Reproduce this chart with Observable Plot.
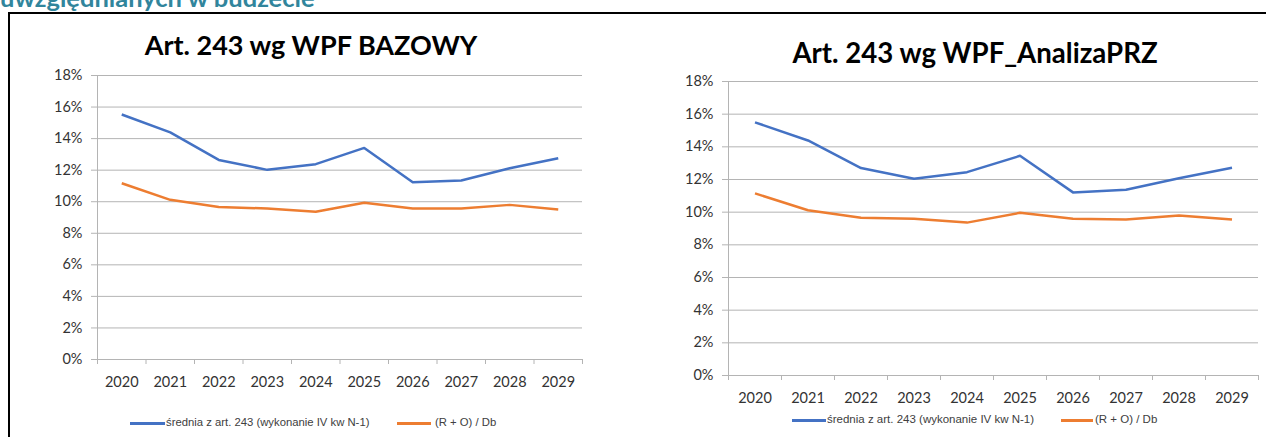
<!DOCTYPE html>
<html>
<head>
<meta charset="utf-8">
<script src="https://cdn.jsdelivr.net/npm/d3@7"></script>
<script src="https://cdn.jsdelivr.net/npm/@observablehq/plot@0.6"></script>
<style>
  html, body { margin: 0; padding: 0; background: #fff; }
  #root { position: relative; width: 1266px; height: 437px; overflow: hidden; background: #fff; }
  .hdr { position: absolute; left: 0; top: -15.5px; font: bold 25.5px/1 Lato, sans-serif; color: #31859c; white-space: nowrap; }
  .box { position: absolute; left: 8px; top: 12px; width: 1300px; height: 500px; border-left: 2px solid #000; border-top: 2px solid #000; box-sizing: border-box; }
  .title { position: absolute; font: bold 27px/1 Lato, sans-serif; color: #000; white-space: nowrap; transform: translateX(-50%); }
  .chart { position: absolute; }
  .leg { position: absolute; font-family: "Liberation Sans", Arial, sans-serif; color: #404040; white-space: nowrap; line-height: 1; }
  .sw { position: absolute; height: 3px; }
</style>
</head>
<body>
<div id="root">
  <div class="hdr">uwzględnianych w budżecie</div>
  <div class="box"></div>
  <div class="chart" id="c1" style="left:20px; top:60px;"></div>
  <div class="chart" id="c2" style="left:650px; top:66px;"></div>
  <div class="title" id="t1" style="left:311px; top:31px;"></div>
  <div class="title" id="t2" style="left:975px; top:39px; font-size:27.6px;"></div>
  <div id="legends"></div>
</div>
<script>
// ---- data ----
const years = [2020, 2021, 2022, 2023, 2024, 2025, 2026, 2027, 2028, 2029];
const yTicks = [0, 2, 4, 6, 8, 10, 12, 14, 16, 18];
const seriesNames = ["średnia z art. 243 (wykonanie IV kw N-1)", "(R + O) / Db"];
const seriesColors = ["#4472C4", "#ED7D31"];
const titles = ["Art. 243 wg WPF BAZOWY", "Art. 243 wg WPF_AnalizaPRZ"];

// chart 1: WPF BAZOWY (values in %)
const bazowySrednia = [15.53, 14.40, 12.65, 12.02, 12.38, 13.41, 11.24, 11.34, 12.12, 12.76];
const bazowyRODb    = [11.17, 10.12, 9.67, 9.57, 9.36, 9.93, 9.57, 9.57, 9.80, 9.51];
// chart 2: WPF_AnalizaPRZ (values in %)
const analizaSrednia = [15.50, 14.39, 12.70, 12.05, 12.45, 13.45, 11.21, 11.37, 12.08, 12.72];
const analizaRODb    = [11.15, 10.12, 9.66, 9.60, 9.36, 9.96, 9.60, 9.55, 9.80, 9.55];

// ---- build ----
document.getElementById("t1").textContent = titles[0];
document.getElementById("t2").textContent = titles[1];

const gridColor = "#b4b4b4";
const textColor = "#333333";
const bounds = [years[0] - 0.5, ...years.map(y => y + 0.5)];

function toRows(vals, s) { return years.map((year, i) => ({year, value: vals[i], series: s})); }

function makeChart({width, height, marginLeft, marginRight, marginTop, marginBottom, a, b}) {
  const rows = [...toRows(a, seriesNames[0]), ...toRows(b, seriesNames[1])];
  return Plot.plot({
    width, height, marginLeft, marginRight, marginTop, marginBottom,
    style: {fontFamily: "Lato, sans-serif", fontSize: "14.5px", background: "transparent", overflow: "visible"},
    x: {type: "linear", domain: [bounds[0], bounds[bounds.length - 1]], axis: null},
    y: {domain: [0, 18], axis: null},
    color: {domain: seriesNames, range: seriesColors},
    marks: [
      Plot.gridY({ticks: yTicks, stroke: gridColor, strokeOpacity: 1}),
      Plot.ruleX([bounds[0]], {stroke: gridColor}),
      Plot.axisY({ticks: yTicks, tickFormat: d => d + "%", tickSize: 6, tickPadding: 9, stroke: gridColor, fill: textColor, label: null}),
      Plot.axisX({ticks: bounds, tickSize: 5, stroke: gridColor, fill: "none", label: null}),
      Plot.axisX({ticks: years, tickFormat: d => String(d), tickSize: 0, tickPadding: 17, fill: textColor, label: null}),
      Plot.lineY(rows, {x: "year", y: "value", z: "series", stroke: "series", strokeWidth: 2.5, strokeLinejoin: "round", strokeLinecap: "butt"})
    ]
  });
}

document.getElementById("c1").append(makeChart({
  width: 600, height: 330, marginLeft: 77, marginRight: 38, marginTop: 15, marginBottom: 31,
  a: bazowySrednia, b: bazowyRODb
}));
document.getElementById("c2").append(makeChart({
  width: 616, height: 330, marginLeft: 78, marginRight: 8, marginTop: 15, marginBottom: 21,
  a: analizaSrednia, b: analizaRODb
}));

// ---- legends ----
const legendLayouts = [
  {y: 423, size: 11.3, items: [{sx: 130, sw: 35, tx: 166}, {sx: 397, sw: 34, tx: 435}]},
  {y: 420, size: 11.5, items: [{sx: 792, sw: 34, tx: 827}, {sx: 1061, sw: 32, tx: 1095}]}
];
const legRoot = document.getElementById("legends");
legendLayouts.forEach(L => {
  L.items.forEach((it, i) => {
    const sw = document.createElement("div");
    sw.className = "sw";
    sw.style.left = it.sx + "px";
    sw.style.top = (L.y - 1.5) + "px";
    sw.style.width = it.sw + "px";
    sw.style.background = seriesColors[i];
    legRoot.append(sw);
    const t = document.createElement("div");
    t.className = "leg";
    t.style.left = it.tx + "px";
    t.style.fontSize = L.size + "px";
    t.style.top = (L.y - L.size * 0.55) + "px";
    t.textContent = seriesNames[i];
    legRoot.append(t);
  });
});
</script>
</body>
</html>
